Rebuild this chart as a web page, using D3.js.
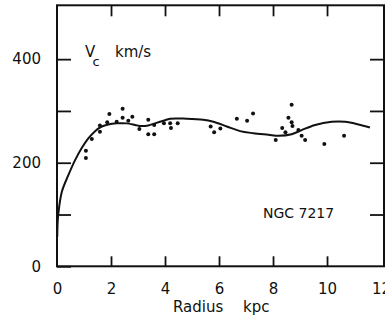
<!DOCTYPE html>
<html>
<head>
<meta charset="utf-8">
<script src="https://cdn.jsdelivr.net/npm/d3@7"></script>
<style>
  body { margin: 0; background: #fff; }
  text { font-family: "DejaVu Sans", sans-serif; fill: #111; }
</style>
</head>
<body>
<div id="container"></div>
<script>
// observed rotation velocities (radius kpc, Vc km/s)
const obsRadius = [1.07, 1.07, 1.29, 1.59, 1.59, 1.86, 1.94, 2.21, 2.43, 2.43, 2.64, 2.79, 3.05,
  3.38, 3.38, 3.60, 3.60, 3.96, 4.19, 4.22, 4.47, 5.69, 5.82, 6.05, 6.66, 7.04, 7.26,
  8.10, 8.34, 8.46, 8.57, 8.69, 8.69, 8.72, 8.94, 9.06, 9.19, 9.90, 10.63];
const obsVel = [223, 209, 246, 260, 272, 278, 294, 279, 304, 287, 281, 289, 265,
  283, 255, 255, 273, 276, 276, 267, 276, 270, 259, 266, 285, 281, 295,
  244, 267, 259, 287, 312, 278, 271, 263, 252, 244, 236, 252];

// fitted rotation curve
const fitRadius = [0.01, 0.02, 0.05, 0.18, 0.42, 0.67, 0.91, 1.16, 1.41, 1.66, 1.90, 2.21, 2.58,
  2.89, 3.07, 3.38, 3.63, 3.94, 4.19, 4.80, 5.42, 5.79, 6.29, 6.78, 7.27, 7.83, 8.20,
  8.69, 9.06, 9.56, 10.17, 10.67, 11.16, 11.59];
const fitVel = [57, 80, 102, 144, 176, 205, 228, 247, 261, 270, 274, 276, 276,
  273, 271, 272, 276, 281, 285, 285, 283, 279, 270, 261, 257, 254, 252,
  255, 263, 273, 279, 279, 274, 268];

const xTicks = [0, 2, 4, 6, 8, 10, 12];
const yTicks = [0, 100, 200, 300, 400];
const yLabelled = [0, 200, 400];

const W = 385, H = 324;
const x = d3.scaleLinear().domain([0, 12.11]).range([57, 384]);
const y = d3.scaleLinear().domain([0, 504]).range([266.3, 5.3]);

const svg = d3.select('#container').append('svg')
  .attr('width', W)
  .attr('height', H);

// frame
svg.append('rect')
  .attr('x', x(0))
  .attr('y', y(504))
  .attr('width', x(12.11) - x(0))
  .attr('height', y(0) - y(504))
  .attr('fill', 'none')
  .attr('stroke', '#111')
  .attr('stroke-width', 2);

// bottom axis, ticks pointing in
const axBottom = svg.append('g')
  .attr('transform', `translate(0, ${y(0)})`)
  .call(d3.axisBottom(x).tickValues(xTicks).tickSize(-10).tickPadding(17));
axBottom.selectAll('line').filter((d) => d === 0 || d === 12).remove();

// top ticks
const axTop = svg.append('g')
  .attr('transform', `translate(0, ${y(504)})`)
  .call(d3.axisTop(x).tickValues(xTicks.filter((d) => d > 0 && d < 12)).tickSize(-11).tickFormat(''));

// left axis
const axLeft = svg.append('g')
  .attr('transform', `translate(${x(0)}, 0)`)
  .call(d3.axisLeft(y).tickValues(yTicks).tickSize(-14).tickPadding(16)
    .tickFormat((d) => yLabelled.includes(d) ? d : ''));

// right ticks
const axRight = svg.append('g')
  .attr('transform', `translate(${x(12.11)}, 0)`)
  .call(d3.axisRight(y).tickValues(yTicks.filter((d) => d > 0)).tickSize(-14).tickFormat(''));

[axBottom, axTop, axLeft, axRight].forEach((g) => {
  g.select('.domain').remove();
  g.selectAll('line').attr('stroke', '#111').attr('stroke-width', 1.8);
  g.selectAll('text')
    .style('font-family', '"DejaVu Sans", sans-serif')
    .style('font-size', '15px')
    .attr('fill', '#111');
});

// fitted curve
const line = d3.line()
  .x((d, i) => x(fitRadius[i]))
  .y((d) => y(d))
  .curve(d3.curveCatmullRom.alpha(0.5));

svg.append('path')
  .datum(fitVel)
  .attr('d', line)
  .attr('fill', 'none')
  .attr('stroke', '#111')
  .attr('stroke-width', 2);

// observed points
svg.append('g').selectAll('circle')
  .data(obsVel).enter()
  .append('circle')
  .attr('cx', (d, i) => x(obsRadius[i]))
  .attr('cy', (d) => y(d))
  .attr('r', 2)
  .attr('fill', '#111');

// labels
svg.append('text')
  .attr('x', 85).attr('y', 57)
  .style('font-size', '15px')
  .text('V');
svg.append('text')
  .attr('x', 92.5).attr('y', 66)
  .style('font-size', '13px')
  .text('c');
svg.append('text')
  .attr('x', 115).attr('y', 57)
  .style('font-size', '15px')
  .text('km/s');

svg.append('text')
  .attr('x', 263).attr('y', 217.5)
  .style('font-size', '14px')
  .text('NGC 7217');

svg.append('text')
  .attr('x', 173).attr('y', 312)
  .style('font-size', '15px')
  .text('Radius');
svg.append('text')
  .attr('x', 243).attr('y', 312)
  .style('font-size', '15px')
  .text('kpc');
</script>
</body>
</html>
